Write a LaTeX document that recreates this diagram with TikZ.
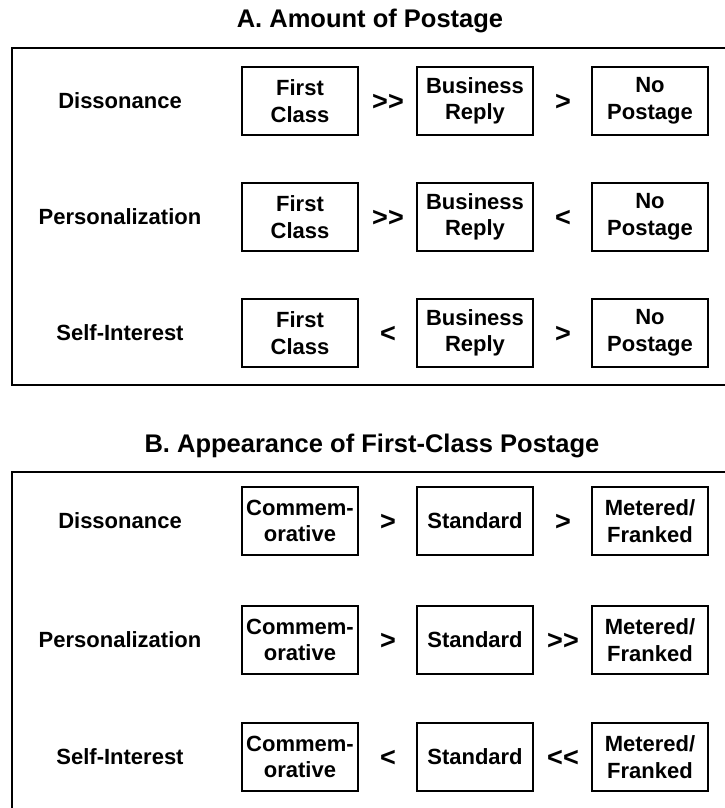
\documentclass[tikz,border=0pt]{standalone}
\usepackage{fontspec}
\setmainfont{Liberation Sans}
\usepackage{tikz}

\begin{document}
\begin{tikzpicture}[x=1pt,y=-1pt,font=\fontsize{22}{26.5}\selectfont\bfseries,
  stamp/.style={draw,line width=1.8pt,minimum width=116pt,minimum height=68pt,inner sep=0pt,align=center},
  heading/.style={font=\fontsize{25.5}{30}\selectfont\bfseries},
  rel/.style={font=\fontsize{27}{30}\selectfont\bfseries,inner sep=0pt},
  panel/.style={line width=2pt}]
\useasboundingbox (0,0) rectangle (725,808);
\clip (0,0) rectangle (725,808);
%\draw[help lines] (0,0) grid[step=50] (725,808);

% A. Amount of Postage
\node (ta) [heading] at (370,21) {A. Amount of Postage};
\draw[panel] (12,48) rectangle (745,385);
\node (dis) [] at (120,101) {Dissonance};
\node (dfc) [stamp] at (300,101) {First\\Class};
\node (dr1) [rel] at (388,102) {>{}>};
\node (dbr) [stamp] at (475,101) {Business\\Reply};
\node (dr2) [rel] at (563,102) {>};
\node (dnp) [stamp] at (650,101) {No\\Postage};
\node (per) [] at (120,217) {Personalization};
\node (pfc) [stamp] at (300,217) {First\\Class};
\node (pr1) [rel] at (388,218) {>{}>};
\node (pbr) [stamp] at (475,217) {Business\\Reply};
\node (pr2) [rel] at (563,218) {<};
\node (pnp) [stamp] at (650,217) {No\\Postage};
\node (sel) [] at (120,333) {Self-Interest};
\node (sfc) [stamp] at (300,333) {First\\Class};
\node (sr1) [rel] at (388,334) {<};
\node (sbr) [stamp] at (475,333) {Business\\Reply};
\node (sr2) [rel] at (563,334) {>};
\node (snp) [stamp] at (650,333) {No\\Postage};

% B. Appearance of First-Class Postage
\node (tb) [heading] at (372,445.5) {B. Appearance of First-Class Postage};
\draw[panel] (12,472) rectangle (745,830);
\node (disb) [] at (120,521) {Dissonance};
\node (dcm) [stamp] at (300,521) {Commem-\\orative};
\node (dq1) [rel] at (388,522) {>};
\node (dst) [stamp] at (475,521) {Standard};
\node (dq2) [rel] at (563,522) {>};
\node (dmf) [stamp] at (650,521) {Metered/\\Franked};
\node (perb) [] at (120,640) {Personalization};
\node (pcm) [stamp] at (300,640) {Commem-\\orative};
\node (pq1) [rel] at (388,641) {>};
\node (pst) [stamp] at (475,640) {Standard};
\node (pq2) [rel] at (563,641) {>{}>};
\node (pmf) [stamp] at (650,640) {Metered/\\Franked};
\node (selb) [] at (120,757) {Self-Interest};
\node (scm) [stamp] at (300,757) {Commem-\\orative};
\node (sq1) [rel] at (388,758) {<};
\node (sst) [stamp] at (475,757) {Standard};
\node (sq2) [rel] at (563,758) {<{}<};
\node (smf) [stamp] at (650,757) {Metered/\\Franked};
\end{tikzpicture}
\end{document}
